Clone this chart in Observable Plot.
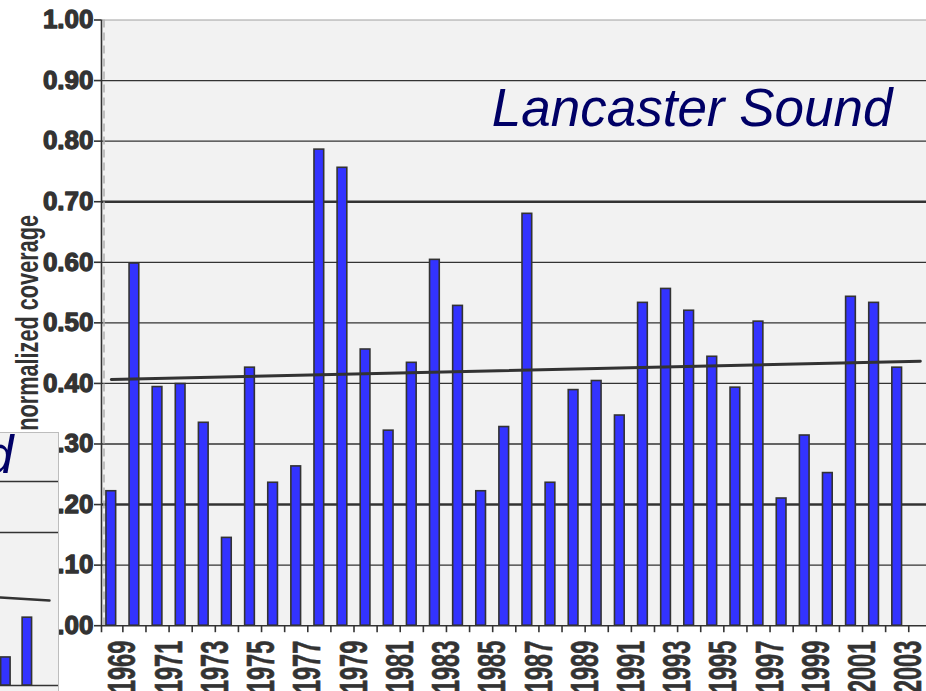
<!DOCTYPE html>
<html><head><meta charset="utf-8">
<script src="https://cdn.jsdelivr.net/npm/d3@7"></script>
<script src="https://cdn.jsdelivr.net/npm/@observablehq/plot@0.6"></script>
<style>
html,body{margin:0;padding:0;background:#fff;}
#wrap{position:relative;width:926px;height:691px;overflow:hidden;}
#inset{position:absolute;left:0;top:432px;width:58px;height:259px;border-top:1px solid #bdbdbd;border-right:1px solid #bdbdbd;}
svg{display:block;}
</style></head><body><div id="wrap"><div id="main"></div><div id="inset"></div></div>
<script>
// ---- data (main chart: Lancaster Sound) ----
const years = [1969,1970,1971,1972,1973,1974,1975,1976,1977,1978,1979,1980,1981,1982,1983,1984,1985,1986,1987,1988,1989,1990,1991,1992,1993,1994,1995,1996,1997,1998,1999,2000,2001,2002,2003];
const coverage = [0.222,0.598,0.394,0.399,0.335,0.145,0.426,0.236,0.263,0.786,0.756,0.456,0.322,0.434,0.604,0.528,0.222,0.328,0.680,0.236,0.389,0.404,0.347,0.533,0.556,0.520,0.444,0.393,0.502,0.210,0.314,0.252,0.543,0.533,0.426];
const trendYears = [1969, 2004];
const trendValues = [0.4066, 0.4367];
const yTicks = [0,0.1,0.2,0.3,0.4,0.5,0.6,0.7,0.8,0.9,1.0];
const yTickLabels = ["0.00","0.10","0.20","0.30","0.40","0.50","0.60","0.70","0.80","0.90","1.00"];
const xLabelYears = [1969,1971,1973,1975,1977,1979,1981,1983,1985,1987,1989,1991,1993,1995,1997,1999,2001,2003];
const title = "Lancaster Sound";
const yTitle = "normalized coverage";
// ---- data (partly hidden neighbouring chart, bottom-left) ----
const insetPositions = [0, 1];
const insetValues = [0.055, 0.133];
const insetTrendX = [-0.25, 2.03];
const insetTrendValues = [0.1725, 0.1667];
const insetGrid = [0.3, 0.4];
const insetTitleTail = "d";

const XMIN = 1968.576, XMAX = 2004.268;
const bars = years.map((year, i) => ({year, value: coverage[i]}));
const trend = trendYears.map((x, i) => ({x, y: trendValues[i]}));
const boundaries = years.map(y => y + 0.5);
const yLabelRows = yTicks.map((v, i) => ({v, label: yTickLabels[i]}));
const thick = v => (Math.abs(v - 0.2) < 1e-9 || Math.abs(v - 0.7) < 1e-9) ? 2.6 : 1.3;

const main = Plot.plot({
  width: 926, height: 691,
  marginLeft: 101, marginRight: 0, marginTop: 19.5, marginBottom: 65.8,
  style: {background: "#fff", fontFamily: "Liberation Sans, Arial, sans-serif", overflow: "hidden"},
  x: {domain: [XMIN, XMAX], axis: null},
  y: {domain: [0, 1], axis: null},
  marks: [
    Plot.frame({fill: "#f2f2f2", stroke: null}),
    Plot.ruleY(yTicks.filter(v => v > 0 && v < 1), {y: d => d, stroke: "#333", strokeWidth: thick}),
    Plot.ruleY([1], {stroke: "#a0a0a0", strokeWidth: 1}),
    Plot.ruleX([XMIN], {dx: 2.5, stroke: "#b0b0b0", strokeWidth: 1.5, strokeDasharray: "8,5"}),
    Plot.rectY(bars, {x1: d => d.year - 0.21, x2: d => d.year + 0.21, y1: 0, y2: "value", fill: "#3333ff", stroke: "#333", strokeWidth: 1.6}),
    Plot.lineY(trend, {x: "x", y: "y", stroke: "#333", strokeWidth: 3}),
    Plot.ruleY([0], {stroke: "#333", strokeWidth: 1.6}),
    Plot.ruleX(boundaries, {y1: 0, y2: 0, insetBottom: -7, stroke: "#333", strokeWidth: 1.6}),
    Plot.ruleX([XMIN], {y1: 1, y2: 0, insetBottom: -7, stroke: "#333", strokeWidth: 1.6}),
    Plot.ruleY(yTicks, {y: d => d, x1: XMIN, x2: XMIN, insetLeft: -7, stroke: "#333", strokeWidth: 1.6}),
    // text marks (order matters for the post-processing below)
    Plot.text(yLabelRows, {x: XMIN, y: "v", text: "label", dx: -8, textAnchor: "end", lineAnchor: "middle", fontSize: 26, fontWeight: "bold", fill: "#333", stroke: "#333", strokeWidth: 1.3}),
    Plot.text(xLabelYears, {x: d => d, text: d => String(d), frameAnchor: "bottom", dy: 15, dx: 12, rotate: -90, textAnchor: "end", lineAnchor: "middle", fontSize: 38, fontWeight: "bold", fill: "#333", stroke: "#333", strokeWidth: 0.6}),
    Plot.text([yTitle], {frameAnchor: "left", dx: -73, rotate: -90, textAnchor: "middle", lineAnchor: "middle", fontSize: 31, fontWeight: "bold", fill: "#333"}),
    Plot.text([title], {frameAnchor: "top-right", dx: -34, dy: 89, textAnchor: "end", lineAnchor: "middle", fontSize: 53, fontStyle: "italic", fill: "#000066"})
  ]
});
const s = d3.select(main);
const textGroups = s.selectAll('g[aria-label="text"]').nodes();
const squeeze = (g, sx) => d3.select(g).selectAll("text").attr("transform", function(){ return (this.getAttribute("transform") || "") + ` scale(${sx},1)`; });
if (textGroups.length >= 3) { squeeze(textGroups[1], 0.62); squeeze(textGroups[2], 0.70); }
document.getElementById("main").appendChild(main);

const insetBars = insetPositions.map((p, i) => ({p, v: insetValues[i]}));
const insetTrend = insetTrendX.map((x, i) => ({x, y: insetTrendValues[i]}));
const inset = Plot.plot({
  width: 58, height: 258, margin: 0,
  style: {background: "#f2f2f2", fontFamily: "Liberation Sans, Arial, sans-serif", overflow: "hidden"},
  x: {domain: [-0.25, 2.45], range: [0, 58], axis: null},
  y: {domain: [0, 0.5], range: [252, -3], axis: null},
  marks: [
    Plot.ruleY(insetGrid, {stroke: "#333", strokeWidth: 1.3}),
    Plot.ruleY([0], {stroke: "#333", strokeWidth: 1.6}),
    Plot.rectY(insetBars, {x1: d => d.p - 0.22, x2: d => d.p + 0.22, y1: 0, y2: "v", fill: "#3333ff", stroke: "#333", strokeWidth: 1.6}),
    Plot.lineY(insetTrend, {x: "x", y: "y", stroke: "#333", strokeWidth: 2.5}),
    Plot.text([insetTitleTail], {frameAnchor: "top-left", dx: 13, dy: 23, textAnchor: "end", lineAnchor: "middle", fontSize: 53, fontStyle: "italic", fill: "#000066"})
  ]
});
document.getElementById("inset").appendChild(inset);
</script></body></html>
